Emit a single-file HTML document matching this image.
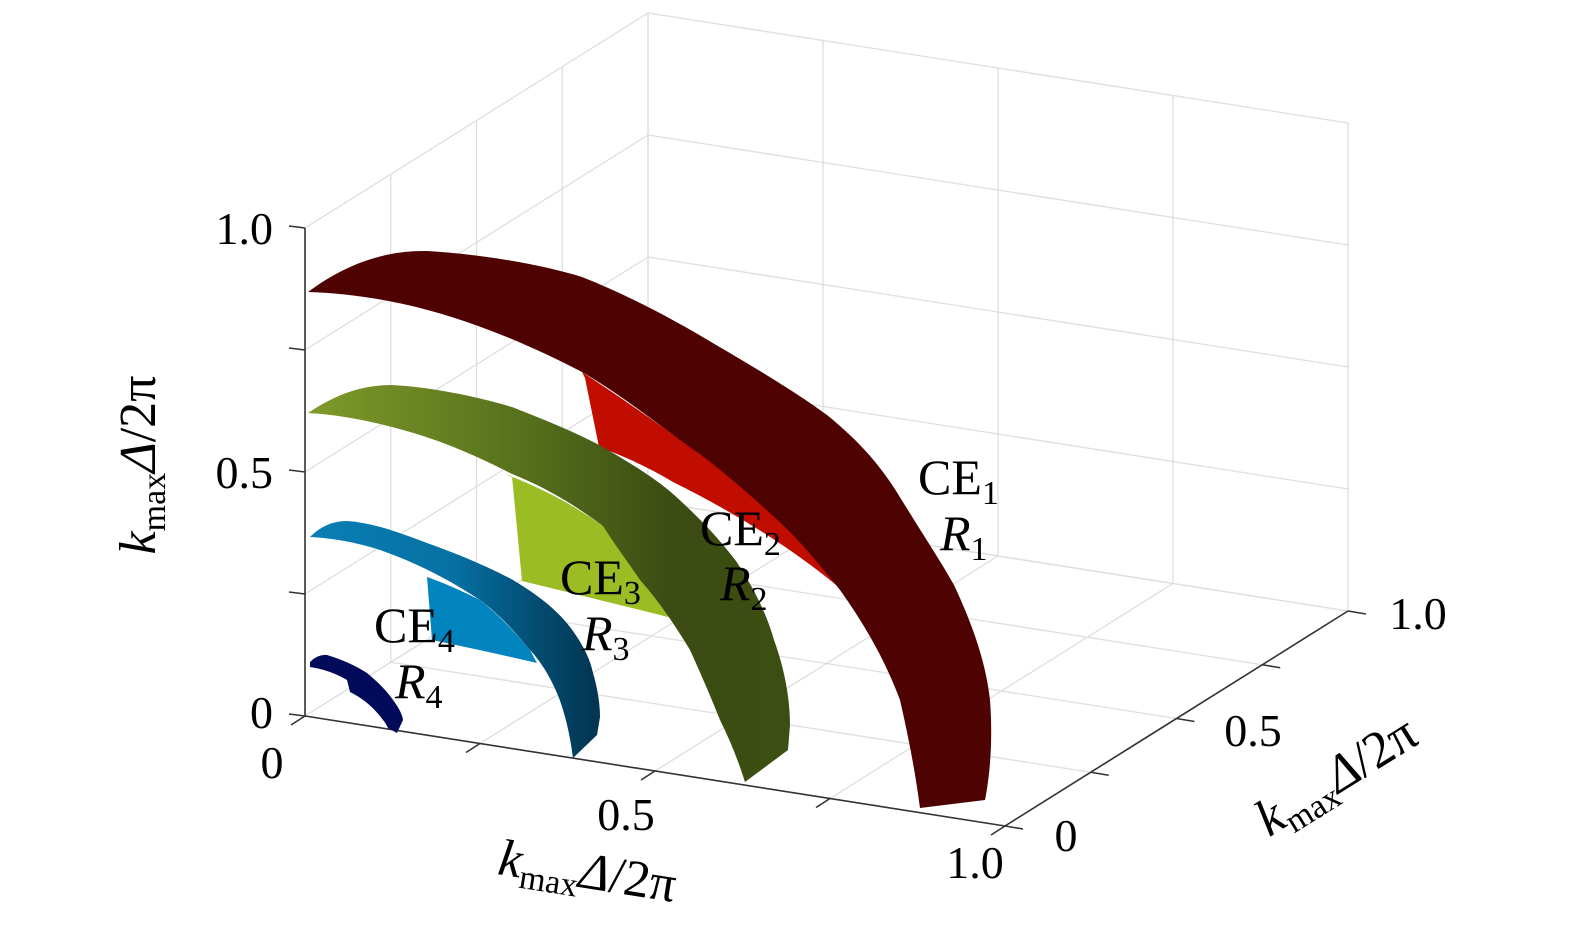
<!DOCTYPE html>
<html><head><meta charset="utf-8"><style>
html,body{margin:0;padding:0;background:#fff;}
svg{display:block;}
text{font-family:"Liberation Serif","DejaVu Serif",serif;fill:#000;}
</style></head><body>
<svg id="s" width="1575" height="945" viewBox="0 0 1575 945" xmlns="http://www.w3.org/2000/svg">
<defs>
<linearGradient id="gg" x1="308" y1="0" x2="790" y2="0" gradientUnits="userSpaceOnUse">
<stop offset="0" stop-color="#7f9a2a"/><stop offset="0.45" stop-color="#56701c"/><stop offset="0.75" stop-color="#3c4c12"/><stop offset="1" stop-color="#3d4e13"/></linearGradient>
<linearGradient id="bg" x1="308" y1="0" x2="600" y2="0" gradientUnits="userSpaceOnUse">
<stop offset="0" stop-color="#0a7fb5"/><stop offset="0.5" stop-color="#0670a3"/><stop offset="0.8" stop-color="#034a6e"/><stop offset="1" stop-color="#02344f"/></linearGradient>
</defs>
<g id="grid" stroke="#dedede" stroke-width="1.3" fill="none"></g>
<g id="axes" stroke="#333" stroke-width="1.6" fill="none"></g>

<path d="M582,372 L585,378 L599,447 Q640,462 673,482 Q770,530 841,589 L860,610 L800,520 Q740,470 701,455 Q640,410 582,372 Z" fill="#c00d00"/>
<path d="M308,292 C340,268 380,250 427,251 C480,254 540,264 582,277 C620,292 660,312 701,336 C745,362 790,388 827,415 C860,442 880,465 898,494 C920,530 940,560 954,585 C975,630 986,665 990,700 C993,740 990,775 985,800 L920,808 C915,770 908,735 900,700 C885,660 865,625 840,590 C820,565 798,538 771,514 C750,495 725,473 701,455 C665,430 625,397 582,372 C530,345 475,322 420,308 C385,299 345,293 308,292 Z" fill="#4e0302"/>

<path d="M505,474 L512,476 L522,581 Q600,600 688,622 L660,590 Q630,555 603,526 Q560,495 505,474 Z" fill="#9cbc24"/>
<path d="M308,413 C335,395 360,385 392,385 C430,387 475,396 512,407 C545,420 575,432 603,447 C630,463 655,478 673,494 C700,518 720,540 736,561 C755,590 767,615 774,640 C785,670 790,700 790,725 L788,750 L745,782 C738,760 730,740 720,720 C710,695 700,672 690,650 C675,625 658,600 640,580 C628,562 615,545 603,526 C575,505 545,487 512,474 C485,460 452,445 420,435 C385,424 345,415 308,413 Z" fill="url(#gg)"/>

<path d="M427,577 L432,640 Q490,652 537,663 L530,650 Q505,620 480,600 Q450,585 427,577 Z" fill="#0284bf"/>
<path d="M310,537 C320,527 332,521 347,521 C375,523 400,533 427,543 C455,553 485,565 513,580 C538,595 557,610 570,627 C582,643 590,658 593,673 C598,690 600,705 600,717 L597,735 L573,758 C570,735 565,712 557,693 C550,677 542,663 530,650 C515,632 500,615 480,600 C450,580 415,562 380,550 C355,542 332,538 310,537 Z" fill="url(#bg)"/>

<path d="M310,662 Q318,654 327,655 Q350,662 367,673 Q385,688 393,700 Q402,712 403,720 L397,733 L388,728 Q385,722 383,720 Q370,702 350,692 L347,680 Q330,670 310,667 Z" fill="#020a5a"/>

<g font-size="46">
<text x="273" y="244" text-anchor="end">1.0</text>
<text x="273" y="488" text-anchor="end">0.5</text>
<text x="273" y="728" text-anchor="end">0</text>
<text x="272" y="778" text-anchor="middle">0</text>
<text x="626" y="830" text-anchor="middle">0.5</text>
<text x="975" y="878" text-anchor="middle">1.0</text>
<text x="1066" y="851" text-anchor="middle">0</text>
<text x="1253" y="746" text-anchor="middle">0.5</text>
<text x="1418" y="629" text-anchor="middle">1.0</text>
</g>

<g font-size="50">
<text x="918" y="494">CE<tspan font-size="34" dy="10">1</tspan></text>
<text x="940" y="550" font-style="italic">R<tspan font-size="34" dy="10" font-style="normal">1</tspan></text>
<text x="700" y="545">CE<tspan font-size="34" dy="10">2</tspan></text>
<text x="720" y="600" font-style="italic">R<tspan font-size="34" dy="10" font-style="normal">2</tspan></text>
<text x="560" y="594">CE<tspan font-size="34" dy="10">3</tspan></text>
<text x="582" y="650" font-style="italic">R<tspan font-size="34" dy="10" font-style="normal">3</tspan></text>
<text x="374" y="642">CE<tspan font-size="34" dy="10">4</tspan></text>
<text x="395" y="698" font-style="italic">R<tspan font-size="34" dy="10" font-style="normal">4</tspan></text>
</g>

<g font-size="52">
<text transform="translate(155,465) rotate(-90)" text-anchor="middle"><tspan font-style="italic">k</tspan><tspan font-size="34" dy="10">max</tspan><tspan dy="-10" font-style="italic">Δ</tspan>/2π</text>
<text transform="translate(585,888) rotate(9)" text-anchor="middle"><tspan font-style="italic">k</tspan><tspan font-size="34" dy="10">max</tspan><tspan dy="-10" font-style="italic">Δ</tspan>/2π</text>
<text transform="translate(1345,790) rotate(-32)" text-anchor="middle"><tspan font-style="italic">k</tspan><tspan font-size="34" dy="10">max</tspan><tspan dy="-10" font-style="italic">Δ</tspan>/2π</text>
</g>
</svg>
<script>
(function(){
var NS="http://www.w3.org/2000/svg";
function P(x,y,z){return [305+700*x+343*y,716+110*x-215*y-488*z];}
function L(g,a,b){var l=document.createElementNS(NS,"line");l.setAttribute("x1",a[0]);l.setAttribute("y1",a[1]);l.setAttribute("x2",b[0]);l.setAttribute("y2",b[1]);g.appendChild(l);}
var g=document.getElementById("grid"),ax=document.getElementById("axes");
var t=[0,0.25,0.5,0.75,1];
t.forEach(function(v){
 L(g,P(0,v,0),P(0,v,1));
 L(g,P(0,0,v),P(0,1,v));
 L(g,P(v,1,0),P(v,1,1));
 L(g,P(0,1,v),P(1,1,v));
 L(g,P(v,0,0),P(v,1,0));
 L(g,P(0,v,0),P(1,v,0));
});
L(ax,P(0,0,0),P(0,0,1));
L(ax,P(0,0,0),P(1,0,0));
L(ax,P(1,0,0),P(1,1,0));
t.forEach(function(v){
 var a=P(0,0,v);L(ax,a,[a[0]-16,a[1]-2]);
 var b=P(v,0,0);L(ax,b,[b[0]-14,b[1]+9]);
 var c=P(1,v,0);L(ax,c,[c[0]+18,c[1]+3]);
});
})();
</script>
</body></html>
